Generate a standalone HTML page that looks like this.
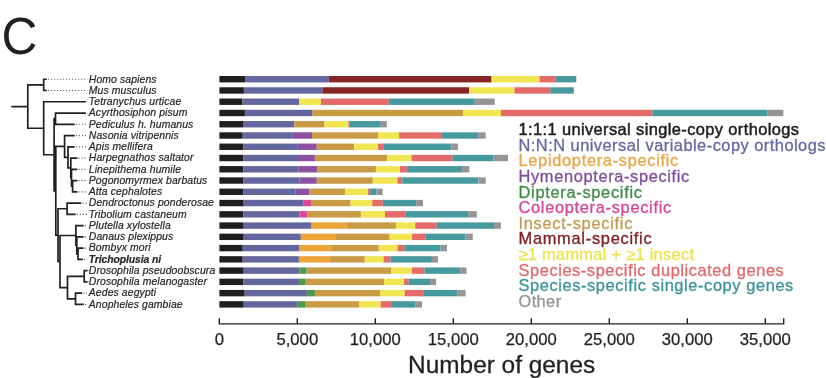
<!DOCTYPE html>
<html><head><meta charset="utf-8"><style>
html,body{margin:0;padding:0;background:#fff;}
body{width:826px;height:378px;overflow:hidden;}
svg{display:block;font-family:"Liberation Sans",sans-serif;will-change:transform;}
</style></head><body>
<svg width="826" height="378" viewBox="0 0 826 378">
<rect x="219.40" y="76.00" width="25.70" height="6.4" fill="#211e1f"/>
<rect x="245.10" y="76.00" width="83.60" height="6.4" fill="#63679d"/>
<rect x="328.70" y="76.00" width="162.80" height="6.4" fill="#872425"/>
<rect x="491.50" y="76.00" width="48.00" height="6.4" fill="#f0e652"/>
<rect x="539.50" y="76.00" width="15.90" height="6.4" fill="#e56a6a"/>
<rect x="555.40" y="76.00" width="20.90" height="6.4" fill="#46999d"/>
<rect x="219.40" y="87.26" width="24.50" height="6.4" fill="#211e1f"/>
<rect x="243.90" y="87.26" width="78.50" height="6.4" fill="#63679d"/>
<rect x="322.40" y="87.26" width="146.80" height="6.4" fill="#872425"/>
<rect x="469.20" y="87.26" width="45.30" height="6.4" fill="#f0e652"/>
<rect x="514.50" y="87.26" width="35.90" height="6.4" fill="#e56a6a"/>
<rect x="550.40" y="87.26" width="23.40" height="6.4" fill="#46999d"/>
<rect x="219.40" y="98.52" width="23.10" height="6.4" fill="#211e1f"/>
<rect x="242.50" y="98.52" width="56.60" height="6.4" fill="#63679d"/>
<rect x="299.10" y="98.52" width="21.80" height="6.4" fill="#f0e652"/>
<rect x="320.90" y="98.52" width="67.80" height="6.4" fill="#e56a6a"/>
<rect x="388.70" y="98.52" width="86.10" height="6.4" fill="#46999d"/>
<rect x="474.80" y="98.52" width="19.90" height="6.4" fill="#959597"/>
<rect x="219.40" y="109.78" width="25.50" height="6.4" fill="#211e1f"/>
<rect x="244.90" y="109.78" width="67.60" height="6.4" fill="#63679d"/>
<rect x="312.50" y="109.78" width="150.50" height="6.4" fill="#c99b45"/>
<rect x="463.00" y="109.78" width="38.00" height="6.4" fill="#f0e652"/>
<rect x="501.00" y="109.78" width="151.50" height="6.4" fill="#e56a6a"/>
<rect x="652.50" y="109.78" width="114.60" height="6.4" fill="#46999d"/>
<rect x="767.10" y="109.78" width="16.20" height="6.4" fill="#959597"/>
<rect x="219.40" y="121.04" width="23.60" height="6.4" fill="#211e1f"/>
<rect x="243.00" y="121.04" width="51.30" height="6.4" fill="#63679d"/>
<rect x="294.30" y="121.04" width="30.30" height="6.4" fill="#c99b45"/>
<rect x="324.60" y="121.04" width="23.90" height="6.4" fill="#f0e652"/>
<rect x="348.50" y="121.04" width="1.50" height="6.4" fill="#e56a6a"/>
<rect x="350.00" y="121.04" width="30.70" height="6.4" fill="#46999d"/>
<rect x="380.70" y="121.04" width="6.10" height="6.4" fill="#959597"/>
<rect x="219.40" y="132.30" width="23.30" height="6.4" fill="#211e1f"/>
<rect x="242.70" y="132.30" width="50.10" height="6.4" fill="#63679d"/>
<rect x="292.80" y="132.30" width="19.20" height="6.4" fill="#8a52a2"/>
<rect x="312.00" y="132.30" width="66.10" height="6.4" fill="#c99b45"/>
<rect x="378.10" y="132.30" width="21.00" height="6.4" fill="#f0e652"/>
<rect x="399.10" y="132.30" width="43.00" height="6.4" fill="#e56a6a"/>
<rect x="442.10" y="132.30" width="36.00" height="6.4" fill="#46999d"/>
<rect x="478.10" y="132.30" width="7.60" height="6.4" fill="#959597"/>
<rect x="219.40" y="143.56" width="23.80" height="6.4" fill="#211e1f"/>
<rect x="243.20" y="143.56" width="54.00" height="6.4" fill="#63679d"/>
<rect x="297.20" y="143.56" width="19.60" height="6.4" fill="#8a52a2"/>
<rect x="316.80" y="143.56" width="37.30" height="6.4" fill="#c99b45"/>
<rect x="354.10" y="143.56" width="24.00" height="6.4" fill="#f0e652"/>
<rect x="378.10" y="143.56" width="5.10" height="6.4" fill="#e56a6a"/>
<rect x="383.20" y="143.56" width="68.20" height="6.4" fill="#46999d"/>
<rect x="451.40" y="143.56" width="6.70" height="6.4" fill="#959597"/>
<rect x="219.40" y="154.82" width="23.80" height="6.4" fill="#211e1f"/>
<rect x="243.20" y="154.82" width="53.80" height="6.4" fill="#63679d"/>
<rect x="297.00" y="154.82" width="17.90" height="6.4" fill="#8a52a2"/>
<rect x="314.90" y="154.82" width="72.40" height="6.4" fill="#c99b45"/>
<rect x="387.30" y="154.82" width="24.20" height="6.4" fill="#f0e652"/>
<rect x="411.50" y="154.82" width="41.10" height="6.4" fill="#e56a6a"/>
<rect x="452.60" y="154.82" width="40.90" height="6.4" fill="#46999d"/>
<rect x="493.50" y="154.82" width="14.50" height="6.4" fill="#959597"/>
<rect x="219.40" y="166.08" width="23.80" height="6.4" fill="#211e1f"/>
<rect x="243.20" y="166.08" width="55.20" height="6.4" fill="#63679d"/>
<rect x="298.40" y="166.08" width="18.70" height="6.4" fill="#8a52a2"/>
<rect x="317.10" y="166.08" width="58.80" height="6.4" fill="#c99b45"/>
<rect x="375.90" y="166.08" width="24.10" height="6.4" fill="#f0e652"/>
<rect x="400.00" y="166.08" width="6.90" height="6.4" fill="#e56a6a"/>
<rect x="406.90" y="166.08" width="55.20" height="6.4" fill="#46999d"/>
<rect x="462.10" y="166.08" width="7.20" height="6.4" fill="#959597"/>
<rect x="219.40" y="177.34" width="23.80" height="6.4" fill="#211e1f"/>
<rect x="243.20" y="177.34" width="56.40" height="6.4" fill="#63679d"/>
<rect x="299.60" y="177.34" width="17.20" height="6.4" fill="#8a52a2"/>
<rect x="316.80" y="177.34" width="56.00" height="6.4" fill="#c99b45"/>
<rect x="372.80" y="177.34" width="24.60" height="6.4" fill="#f0e652"/>
<rect x="397.40" y="177.34" width="4.90" height="6.4" fill="#e56a6a"/>
<rect x="402.30" y="177.34" width="76.10" height="6.4" fill="#46999d"/>
<rect x="478.40" y="177.34" width="7.30" height="6.4" fill="#959597"/>
<rect x="219.40" y="188.60" width="23.80" height="6.4" fill="#211e1f"/>
<rect x="243.20" y="188.60" width="52.30" height="6.4" fill="#63679d"/>
<rect x="295.50" y="188.60" width="13.60" height="6.4" fill="#8a52a2"/>
<rect x="309.10" y="188.60" width="36.10" height="6.4" fill="#c99b45"/>
<rect x="345.20" y="188.60" width="22.70" height="6.4" fill="#f0e652"/>
<rect x="367.90" y="188.60" width="1.70" height="6.4" fill="#e56a6a"/>
<rect x="369.60" y="188.60" width="6.80" height="6.4" fill="#46999d"/>
<rect x="376.40" y="188.60" width="6.30" height="6.4" fill="#959597"/>
<rect x="219.40" y="199.86" width="24.30" height="6.4" fill="#211e1f"/>
<rect x="243.70" y="199.86" width="60.00" height="6.4" fill="#63679d"/>
<rect x="303.70" y="199.86" width="7.30" height="6.4" fill="#dc4698"/>
<rect x="311.00" y="199.86" width="39.50" height="6.4" fill="#c99b45"/>
<rect x="350.50" y="199.86" width="21.80" height="6.4" fill="#f0e652"/>
<rect x="372.30" y="199.86" width="10.50" height="6.4" fill="#e56a6a"/>
<rect x="382.80" y="199.86" width="33.30" height="6.4" fill="#46999d"/>
<rect x="416.10" y="199.86" width="6.90" height="6.4" fill="#959597"/>
<rect x="219.40" y="211.12" width="23.80" height="6.4" fill="#211e1f"/>
<rect x="243.20" y="211.12" width="56.40" height="6.4" fill="#63679d"/>
<rect x="299.60" y="211.12" width="8.00" height="6.4" fill="#dc4698"/>
<rect x="307.60" y="211.12" width="53.30" height="6.4" fill="#c99b45"/>
<rect x="360.90" y="211.12" width="24.10" height="6.4" fill="#f0e652"/>
<rect x="385.00" y="211.12" width="20.30" height="6.4" fill="#e56a6a"/>
<rect x="405.30" y="211.12" width="62.80" height="6.4" fill="#46999d"/>
<rect x="468.10" y="211.12" width="8.70" height="6.4" fill="#959597"/>
<rect x="219.40" y="222.38" width="24.30" height="6.4" fill="#211e1f"/>
<rect x="243.70" y="222.38" width="67.30" height="6.4" fill="#63679d"/>
<rect x="311.00" y="222.38" width="35.80" height="6.4" fill="#eda53a"/>
<rect x="346.80" y="222.38" width="49.10" height="6.4" fill="#c99b45"/>
<rect x="395.90" y="222.38" width="19.30" height="6.4" fill="#f0e652"/>
<rect x="415.20" y="222.38" width="21.60" height="6.4" fill="#e56a6a"/>
<rect x="436.80" y="222.38" width="57.20" height="6.4" fill="#46999d"/>
<rect x="494.00" y="222.38" width="6.90" height="6.4" fill="#959597"/>
<rect x="219.40" y="233.64" width="24.30" height="6.4" fill="#211e1f"/>
<rect x="243.70" y="233.64" width="57.10" height="6.4" fill="#63679d"/>
<rect x="300.80" y="233.64" width="34.40" height="6.4" fill="#eda53a"/>
<rect x="335.20" y="233.64" width="54.40" height="6.4" fill="#c99b45"/>
<rect x="389.60" y="233.64" width="22.50" height="6.4" fill="#f0e652"/>
<rect x="412.10" y="233.64" width="13.30" height="6.4" fill="#e56a6a"/>
<rect x="425.40" y="233.64" width="40.10" height="6.4" fill="#46999d"/>
<rect x="465.50" y="233.64" width="7.30" height="6.4" fill="#959597"/>
<rect x="219.40" y="244.90" width="23.30" height="6.4" fill="#211e1f"/>
<rect x="242.70" y="244.90" width="56.70" height="6.4" fill="#63679d"/>
<rect x="299.40" y="244.90" width="31.70" height="6.4" fill="#eda53a"/>
<rect x="331.10" y="244.90" width="47.70" height="6.4" fill="#c99b45"/>
<rect x="378.80" y="244.90" width="18.70" height="6.4" fill="#f0e652"/>
<rect x="397.50" y="244.90" width="6.90" height="6.4" fill="#e56a6a"/>
<rect x="404.40" y="244.90" width="36.20" height="6.4" fill="#46999d"/>
<rect x="440.60" y="244.90" width="6.40" height="6.4" fill="#959597"/>
<rect x="219.40" y="256.16" width="23.30" height="6.4" fill="#211e1f"/>
<rect x="242.70" y="256.16" width="56.20" height="6.4" fill="#63679d"/>
<rect x="298.90" y="256.16" width="30.80" height="6.4" fill="#eda53a"/>
<rect x="329.70" y="256.16" width="35.10" height="6.4" fill="#c99b45"/>
<rect x="364.80" y="256.16" width="18.80" height="6.4" fill="#f0e652"/>
<rect x="383.60" y="256.16" width="6.90" height="6.4" fill="#e56a6a"/>
<rect x="390.50" y="256.16" width="41.40" height="6.4" fill="#46999d"/>
<rect x="431.90" y="256.16" width="6.10" height="6.4" fill="#959597"/>
<rect x="219.40" y="267.42" width="24.30" height="6.4" fill="#211e1f"/>
<rect x="243.70" y="267.42" width="55.70" height="6.4" fill="#63679d"/>
<rect x="299.40" y="267.42" width="7.30" height="6.4" fill="#4a9a4c"/>
<rect x="306.70" y="267.42" width="84.70" height="6.4" fill="#c99b45"/>
<rect x="391.40" y="267.42" width="20.60" height="6.4" fill="#f0e652"/>
<rect x="412.00" y="267.42" width="12.40" height="6.4" fill="#e56a6a"/>
<rect x="424.40" y="267.42" width="35.80" height="6.4" fill="#46999d"/>
<rect x="460.20" y="267.42" width="6.30" height="6.4" fill="#959597"/>
<rect x="219.40" y="278.68" width="23.80" height="6.4" fill="#211e1f"/>
<rect x="243.20" y="278.68" width="55.70" height="6.4" fill="#63679d"/>
<rect x="298.90" y="278.68" width="6.80" height="6.4" fill="#4a9a4c"/>
<rect x="305.70" y="278.68" width="78.30" height="6.4" fill="#c99b45"/>
<rect x="384.00" y="278.68" width="20.10" height="6.4" fill="#f0e652"/>
<rect x="404.10" y="278.68" width="4.60" height="6.4" fill="#e56a6a"/>
<rect x="408.70" y="278.68" width="21.30" height="6.4" fill="#46999d"/>
<rect x="430.00" y="278.68" width="6.10" height="6.4" fill="#959597"/>
<rect x="219.40" y="289.94" width="25.30" height="6.4" fill="#211e1f"/>
<rect x="244.70" y="289.94" width="62.20" height="6.4" fill="#63679d"/>
<rect x="306.90" y="289.94" width="8.00" height="6.4" fill="#4a9a4c"/>
<rect x="314.90" y="289.94" width="65.10" height="6.4" fill="#c99b45"/>
<rect x="380.00" y="289.94" width="24.70" height="6.4" fill="#f0e652"/>
<rect x="404.70" y="289.94" width="19.20" height="6.4" fill="#e56a6a"/>
<rect x="423.90" y="289.94" width="33.30" height="6.4" fill="#46999d"/>
<rect x="457.20" y="289.94" width="8.40" height="6.4" fill="#959597"/>
<rect x="219.40" y="301.20" width="24.30" height="6.4" fill="#211e1f"/>
<rect x="243.70" y="301.20" width="54.00" height="6.4" fill="#63679d"/>
<rect x="297.70" y="301.20" width="7.30" height="6.4" fill="#4a9a4c"/>
<rect x="305.00" y="301.20" width="54.00" height="6.4" fill="#c99b45"/>
<rect x="359.00" y="301.20" width="21.70" height="6.4" fill="#f0e652"/>
<rect x="380.70" y="301.20" width="10.50" height="6.4" fill="#e56a6a"/>
<rect x="391.20" y="301.20" width="24.00" height="6.4" fill="#46999d"/>
<rect x="415.20" y="301.20" width="6.80" height="6.4" fill="#959597"/>
<path d="M219.3 318.2 V323.9 H783.7 V318.2" fill="none" stroke="#231f20" stroke-width="1.4"/>
<path d="M297.30 318.2 V323.9" stroke="#231f20" stroke-width="1.4"/>
<path d="M375.30 318.2 V323.9" stroke="#231f20" stroke-width="1.4"/>
<path d="M453.30 318.2 V323.9" stroke="#231f20" stroke-width="1.4"/>
<path d="M531.30 318.2 V323.9" stroke="#231f20" stroke-width="1.4"/>
<path d="M609.30 318.2 V323.9" stroke="#231f20" stroke-width="1.4"/>
<path d="M687.30 318.2 V323.9" stroke="#231f20" stroke-width="1.4"/>
<path d="M765.30 318.2 V323.9" stroke="#231f20" stroke-width="1.4"/>
<path d="M27.8 84.88V128.25M27.8 84.88H43.7M43.7 79.25V90.51M43.7 79.25H46.0M43.7 90.51H46.0M27.8 128.25H43.7M43.7 101.77V154.73M43.7 101.77H85.0M43.7 154.73H54.1M54.1 118.66V190.79M54.1 118.66H55.5M55.5 113.03V124.29M55.5 113.03H85.0M55.5 124.29H73.8M54.1 190.79H55.8M55.8 146.46V235.13M55.8 146.46H64.6M64.6 135.55V157.37M64.6 135.55H73.8M64.6 157.37H68.0M68.0 146.81V167.92M68.0 146.81H73.8M68.0 167.92H70.8M70.8 158.07V177.77M70.8 158.07H76.5M70.8 177.77H71.5M71.5 169.33V186.22M71.5 169.33H76.5M71.5 186.22H72.6M72.6 180.59V191.85M72.6 180.59H76.5M72.6 191.85H76.5M55.8 235.13H58.0M58.0 208.74V261.52M58.0 208.74H67.1M67.1 203.11V214.37M67.1 203.11H80.4M67.1 214.37H74.8M58.0 261.52H60.0M60.0 235.48V287.56M60.0 235.48H75.9M75.9 225.63V245.33M75.9 225.63H82.8M75.9 245.33H76.8M76.8 236.89V253.78M76.8 236.89H82.8M76.8 253.78H78.0M78.0 248.15V259.41M78.0 248.15H82.8M78.0 259.41H82.0M60.0 287.56H67.5M67.5 276.30V298.82M67.5 276.30H84.2M84.2 270.67V281.93M84.2 270.67H86.5M84.2 281.93H86.5M67.5 298.82H75.5M75.5 293.19V304.45M75.5 293.19H81.2M75.5 304.45H83.0M12.2 106.56H27.8" fill="none" stroke="#231f20" stroke-width="1.7" stroke-linecap="square"/>
<path d="M48.0 79.25H87.3M48.0 90.51H87.3M87.0 101.77H87.3M87.0 113.03H87.3M75.8 124.29H87.3M75.8 135.55H87.3M75.8 146.81H87.3M78.5 158.07H87.3M78.5 169.33H87.3M78.5 180.59H87.3M78.5 191.85H87.3M82.4 203.11H87.3M76.8 214.37H87.3M84.8 225.63H87.3M84.8 236.89H87.3M84.8 248.15H87.3M84.0 259.41H87.3M88.5 270.67H87.3M88.5 281.93H87.3M83.2 293.19H87.3M85.0 304.45H87.3" fill="none" stroke="#6a6a6a" stroke-width="1.15" stroke-dasharray="1.2 1.8"/>
<text x="88.8" y="82.55" font-size="10.4" font-style="italic" letter-spacing="0.12" fill="#2a2728" stroke="#2a2728" stroke-width="0.22">Homo sapiens</text>
<text x="88.8" y="93.81" font-size="10.4" font-style="italic" letter-spacing="0.12" fill="#2a2728" stroke="#2a2728" stroke-width="0.22">Mus musculus</text>
<text x="88.8" y="105.07" font-size="10.4" font-style="italic" letter-spacing="0.12" fill="#2a2728" stroke="#2a2728" stroke-width="0.22">Tetranychus urticae</text>
<text x="88.8" y="116.33" font-size="10.4" font-style="italic" letter-spacing="0.12" fill="#2a2728" stroke="#2a2728" stroke-width="0.22">Acyrthosiphon pisum</text>
<text x="88.8" y="127.59" font-size="10.4" font-style="italic" letter-spacing="0.12" fill="#2a2728" stroke="#2a2728" stroke-width="0.22">Pediculus h. humanus</text>
<text x="88.8" y="138.85" font-size="10.4" font-style="italic" letter-spacing="0.12" fill="#2a2728" stroke="#2a2728" stroke-width="0.22">Nasonia vitripennis</text>
<text x="88.8" y="150.11" font-size="10.4" font-style="italic" letter-spacing="0.12" fill="#2a2728" stroke="#2a2728" stroke-width="0.22">Apis mellifera</text>
<text x="88.8" y="161.37" font-size="10.4" font-style="italic" letter-spacing="0.12" fill="#2a2728" stroke="#2a2728" stroke-width="0.22">Harpegnathos saltator</text>
<text x="88.8" y="172.63" font-size="10.4" font-style="italic" letter-spacing="0.12" fill="#2a2728" stroke="#2a2728" stroke-width="0.22">Linepithema humile</text>
<text x="88.8" y="183.89" font-size="10.4" font-style="italic" letter-spacing="0.12" fill="#2a2728" stroke="#2a2728" stroke-width="0.22">Pogonomyrmex barbatus</text>
<text x="88.8" y="195.15" font-size="10.4" font-style="italic" letter-spacing="0.12" fill="#2a2728" stroke="#2a2728" stroke-width="0.22">Atta cephalotes</text>
<text x="88.8" y="206.41" font-size="10.4" font-style="italic" letter-spacing="0.12" fill="#2a2728" stroke="#2a2728" stroke-width="0.22">Dendroctonus ponderosae</text>
<text x="88.8" y="217.67" font-size="10.4" font-style="italic" letter-spacing="0.12" fill="#2a2728" stroke="#2a2728" stroke-width="0.22">Tribolium castaneum</text>
<text x="88.8" y="228.93" font-size="10.4" font-style="italic" letter-spacing="0.12" fill="#2a2728" stroke="#2a2728" stroke-width="0.22">Plutella xylostella</text>
<text x="88.8" y="240.19" font-size="10.4" font-style="italic" letter-spacing="0.12" fill="#2a2728" stroke="#2a2728" stroke-width="0.22">Danaus plexippus</text>
<text x="88.8" y="251.45" font-size="10.4" font-style="italic" letter-spacing="0.12" fill="#2a2728" stroke="#2a2728" stroke-width="0.22">Bombyx mori</text>
<text x="88.8" y="262.71" font-size="10.4" font-style="italic" font-weight="bold" letter-spacing="-0.1" fill="#2a2728" stroke="#2a2728" stroke-width="0.22">Trichoplusia ni</text>
<text x="88.8" y="273.97" font-size="10.4" font-style="italic" letter-spacing="0.12" fill="#2a2728" stroke="#2a2728" stroke-width="0.22">Drosophila pseudoobscura</text>
<text x="88.8" y="285.23" font-size="10.4" font-style="italic" letter-spacing="0.12" fill="#2a2728" stroke="#2a2728" stroke-width="0.22">Drosophila melanogaster</text>
<text x="88.8" y="296.49" font-size="10.4" font-style="italic" letter-spacing="0.12" fill="#2a2728" stroke="#2a2728" stroke-width="0.22">Aedes aegypti</text>
<text x="88.8" y="307.75" font-size="10.4" font-style="italic" letter-spacing="0.12" fill="#2a2728" stroke="#2a2728" stroke-width="0.22">Anopheles gambiae</text>
<text x="219.30" y="345.2" font-size="16.7" text-anchor="middle" fill="#231f20" stroke="#231f20" stroke-width="0.25">0</text>
<text x="297.30" y="345.2" font-size="16.7" text-anchor="middle" fill="#231f20" stroke="#231f20" stroke-width="0.25">5,000</text>
<text x="375.30" y="345.2" font-size="16.7" text-anchor="middle" fill="#231f20" stroke="#231f20" stroke-width="0.25">10,000</text>
<text x="453.30" y="345.2" font-size="16.7" text-anchor="middle" fill="#231f20" stroke="#231f20" stroke-width="0.25">15,000</text>
<text x="531.30" y="345.2" font-size="16.7" text-anchor="middle" fill="#231f20" stroke="#231f20" stroke-width="0.25">20,000</text>
<text x="609.30" y="345.2" font-size="16.7" text-anchor="middle" fill="#231f20" stroke="#231f20" stroke-width="0.25">25,000</text>
<text x="687.30" y="345.2" font-size="16.7" text-anchor="middle" fill="#231f20" stroke="#231f20" stroke-width="0.25">30,000</text>
<text x="765.30" y="345.2" font-size="16.7" text-anchor="middle" fill="#231f20" stroke="#231f20" stroke-width="0.25">35,000</text>
<text x="408.1" y="373" font-size="24.4" fill="#231f20" stroke="#231f20" stroke-width="0.3">Number of genes</text>
<text x="1.5" y="53.6" font-size="51.5" fill="#231f20" transform="translate(4 0) scale(0.965 1) translate(-4 0)">C</text>
<text x="518.5" y="134.90" font-size="16.4" letter-spacing="0.4" fill="#211e1f" stroke="#211e1f" stroke-width="0.5">1:1:1 universal single-copy orthologs</text>
<text x="518.5" y="150.55" font-size="16.4" letter-spacing="0.479" fill="#6568a1" stroke="#6568a1" stroke-width="0.3">N:N:N universal variable-copy orthologs</text>
<text x="518.5" y="166.20" font-size="16.4" letter-spacing="0.69" fill="#eaa644" stroke="#eaa644" stroke-width="0.3">Lepidoptera-specific</text>
<text x="518.5" y="181.85" font-size="16.4" letter-spacing="0.647" fill="#7f4c9c" stroke="#7f4c9c" stroke-width="0.3">Hymenoptera-specific</text>
<text x="518.5" y="197.50" font-size="16.4" letter-spacing="0.7" fill="#3d8c48" stroke="#3d8c48" stroke-width="0.3">Diptera-specific</text>
<text x="518.5" y="213.15" font-size="16.4" letter-spacing="0.689" fill="#d4479a" stroke="#d4479a" stroke-width="0.3">Coleoptera-specific</text>
<text x="518.5" y="228.80" font-size="16.4" letter-spacing="0.714" fill="#c49a50" stroke="#c49a50" stroke-width="0.3">Insect-specific</text>
<text x="518.5" y="244.45" font-size="16.4" letter-spacing="0.729" fill="#801e21" stroke="#801e21" stroke-width="0.3">Mammal-specific</text>
<text x="518.5" y="260.10" font-size="16.4" letter-spacing="0.29" fill="#efe24f" stroke="#efe24f" stroke-width="0.3">≥1 mammal + ≥1 insect</text>
<text x="518.5" y="275.75" font-size="16.4" letter-spacing="0.575" fill="#e06a6a" stroke="#e06a6a" stroke-width="0.3">Species-specific duplicated genes</text>
<text x="518.5" y="291.40" font-size="16.4" letter-spacing="0.597" fill="#3a9499" stroke="#3a9499" stroke-width="0.3">Species-specific single-copy genes</text>
<text x="518.5" y="307.05" font-size="16.4" letter-spacing="0.4" fill="#949496" stroke="#949496" stroke-width="0.3">Other</text>
</svg>
</body></html>
